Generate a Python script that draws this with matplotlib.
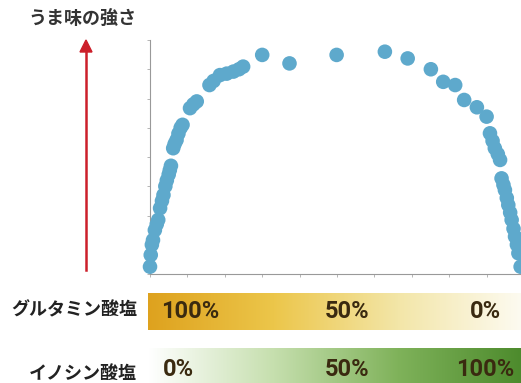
import numpy as np
import matplotlib.pyplot as plt
from matplotlib.colors import LinearSegmentedColormap

plt.rcParams['font.family'] = ['Noto Sans CJK JP', 'DejaVu Sans']

# 点（グルタミン酸塩の割合に対するうま味の強さ）
x_vals = [0.0, 0.2, 0.5, 0.8, 1.3, 1.8, 2.2, 2.7, 3.2, 3.6, 4.1, 4.5, 5.0, 5.3, 5.6,
          6.2, 6.6, 7.1, 7.6, 8.2, 8.7, 10.7, 11.6, 12.5, 15.9, 17.0, 18.7, 20.5,
          22.3, 23.8, 24.9, 30.0, 37.3, 49.9, 62.8, 68.9, 75.1, 78.4, 81.6, 84.0,
          87.4, 90.0, 90.9, 91.6, 92.2, 93.0, 93.6, 94.0, 94.5, 94.9, 95.4, 95.8,
          96.3, 96.7, 97.2, 97.6, 98.1, 98.5, 99.1]
y_vals = [0.25, 0.65, 1.0, 1.16, 1.5, 1.7, 1.85, 2.25, 2.5, 2.7, 3.0, 3.2, 3.4, 3.55, 3.7,
          4.3, 4.45, 4.58, 4.8, 5.0, 5.1, 5.67, 5.8, 5.9, 6.46, 6.6, 6.8, 6.85,
          6.92, 7.0, 7.09, 7.49, 7.2, 7.49, 7.6, 7.37, 7.0, 6.57, 6.46, 5.95,
          5.7, 5.38, 4.81, 4.55, 4.3, 4.1, 3.9, 3.27, 3.05, 2.87, 2.6, 2.36,
          2.1, 1.85, 1.55, 1.28, 1.0, 0.71, 0.25]

glu_labels = ['100%', '50%', '0%']
ino_labels = ['0%', '50%', '100%']

W, H = 521, 383
fig = plt.figure(figsize=(W / 100, H / 100), dpi=100)

def box(x0, y0, x1, y1):
    return [x0 / W, 1 - y1 / H, (x1 - x0) / W, (y1 - y0) / H]

ax = fig.add_axes(box(150, 40, 524, 274))
ax.scatter(x_vals, y_vals, s=110, color='#5ea9cc', edgecolors='none', clip_on=False, zorder=3)
ax.set_xlim(0, 100)
ax.set_ylim(0, 8)
ax.set_xticks(np.arange(0, 101, 10))
ax.set_yticks(np.arange(0, 9, 1))
ax.tick_params(length=2, width=0.5, colors='#999999', labelleft=False, labelbottom=False)
for s in ['top', 'right']:
    ax.spines[s].set_visible(False)
for s in ['left', 'bottom']:
    ax.spines[s].set_color('#999999')
    ax.spines[s].set_linewidth(0.8)

# 矢印とタイトル
fig.text(82 / W, 1 - 18 / H, 'うま味の強さ', ha='center', va='center', fontsize=13,
         fontweight='bold', color='#333333')
fig.add_artist(plt.Line2D([86 / W, 86 / W], [1 - 270 / H, 1 - 52 / H], color='#cc1f2a', lw=1.8))
fig.patches.append(plt.Polygon([[80 / W, 1 - 52 / H], [92 / W, 1 - 52 / H], [86 / W, 1 - 40 / H]],
                               closed=True, color='#cc1f2a', transform=fig.transFigure))

grad = np.linspace(0, 1, 256).reshape(1, -1)
cm_glu = LinearSegmentedColormap.from_list('glu', ['#dea21e', '#ecc64a', '#f3e6a8', '#fdfbf2'])
cm_ino = LinearSegmentedColormap.from_list('ino', ['#ffffff', '#c6dfae', '#7fb25a', '#4c8a2c'])

label_px = [190, 347, 485]
bars = [(293, 330, cm_glu, glu_labels, 'グルタミン酸塩', 312, 310, [190, 347, 485]),
        (348, 390, cm_ino, ino_labels, 'イノシン酸塩', 369, 373, [178, 347, 485])]
for y0, y1, cm, labels, name, ty, ny, pxs in bars:
    bax = fig.add_axes(box(148, y0, 524, y1))
    bax.imshow(grad, cmap=cm, aspect='auto', extent=[0, 1, 0, 1])
    bax.set_axis_off()
    for lab, px in zip(labels, pxs):
        fig.text(px / W, 1 - ty / H, lab, ha='center', va='center', fontsize=17,
                 fontweight='bold', family='Roboto', color='#3a2a10')
    fig.text(137 / W, 1 - ny / H, name, ha='right', va='center', fontsize=13,
             fontweight='bold', color='#222222')

fig.savefig('out.png', dpi=100)
